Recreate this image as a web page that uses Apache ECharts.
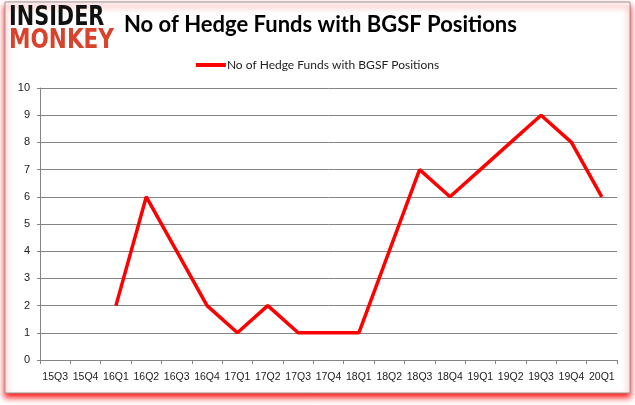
<!DOCTYPE html>
<html>
<head>
<meta charset="utf-8">
<script src="https://cdn.jsdelivr.net/npm/echarts@6/dist/echarts.min.js"></script>
<style>html,body{margin:0;padding:0;background:#fff;}#c{width:635px;height:405px;}</style>
</head>
<body>
<div id="c"></div>
<script>
var titleText = 'No of Hedge Funds with BGSF Positions';
var seriesName = 'No of Hedge Funds with BGSF Positions';
var categories = ['15Q3','15Q4','16Q1','16Q2','16Q3','16Q4','17Q1','17Q2','17Q3','17Q4','18Q1','18Q2','18Q3','18Q4','19Q1','19Q2','19Q3','19Q4','20Q1'];
var values = [null, null, 2, 6, 4, 2, 1, 2, 1, 1, 1, 4, 7, 6, 7, 8, 9, 8, 6];
var yTicks = [0,1,2,3,4,5,6,7,8,9,10];

var chart = echarts.init(document.getElementById('c'));
chart.setOption({
  animation: false,
  backgroundColor: '#fff',
  title: {
    text: titleText,
    left: 119, top: 9,
    textStyle: { fontFamily: 'Lato', fontWeight: 'bold', fontSize: 22, color: '#000' }
  },
  legend: {
    data: [seriesName],
    top: 54, left: 'center',
    icon: 'rect', itemWidth: 30, itemHeight: 4, itemGap: 0,
    textStyle: { fontFamily: 'Lato', fontSize: 12, color: '#222', padding: [0,0,0,-4] }
  },
  grid: { left: 40, right: 18, top: 88, bottom: 45, containLabel: false },
  xAxis: {
    type: 'category',
    data: categories,
    boundaryGap: true,
    axisLine: { lineStyle: { color: '#858585', width: 1 } },
    axisTick: { show: true, length: 4, lineStyle: { color: '#858585' }, alignWithLabel: false },
    axisLabel: { interval: 0, fontFamily: 'Liberation Sans', fontSize: 10.5, color: '#222', margin: 12 },
    splitLine: { show: false }
  },
  yAxis: {
    type: 'value',
    min: yTicks[0], max: yTicks[yTicks.length-1], interval: 1,
    axisLine: { show: true, lineStyle: { color: '#858585', width: 1 } },
    axisTick: { show: true, length: 3, lineStyle: { color: '#858585' } },
    axisLabel: { fontFamily: 'Liberation Sans', fontSize: 11, color: '#222', margin: 10 },
    splitLine: { show: true, lineStyle: { color: '#858585', width: 1 } }
  },
  graphic: [
    { type: 'rect', z: -10, silent: true,
      shape: { x: 5, y: 2, width: 625, height: 391 },
      style: { fill: '#fff', stroke: '#999', lineWidth: 1, shadowColor: 'rgba(255,0,0,0.95)', shadowBlur: 6, shadowOffsetY: 4 } },
    { type: 'text', left: 9, top: 5, silent: true, scaleX: 0.8,
      style: { text: 'INSIDER', fill: '#111', font: '900 26px "DejaVu Sans"' } },
    { type: 'text', left: 9, top: 28, silent: true, scaleX: 0.83,
      style: { text: 'MONKEY', fill: '#d9432b', font: '900 26px "DejaVu Sans"' } }
  ],
  series: [{
    name: seriesName,
    type: 'line',
    data: values,
    showSymbol: false,
    symbol: 'none',
    connectNulls: false,
    lineStyle: { color: '#ff0000', width: 3.5 },
    itemStyle: { color: '#ff0000' }
  }]
});
</script>
</body>
</html>
